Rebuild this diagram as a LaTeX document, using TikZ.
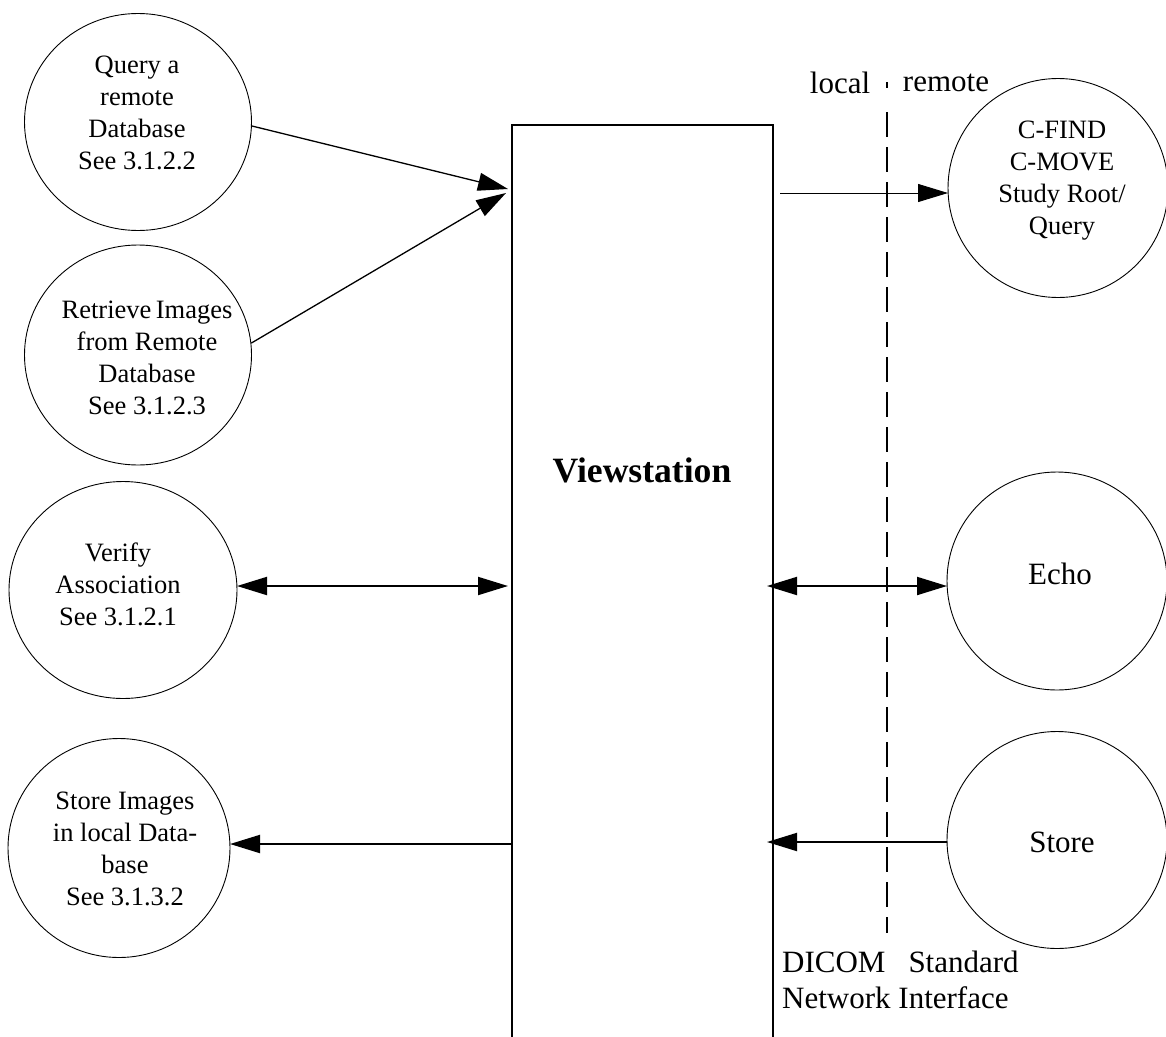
\documentclass[tikz,border=0pt]{standalone}
\usepackage{fontspec}
\setmainfont{Liberation Serif}
\usetikzlibrary{arrows.meta,shapes.geometric}
\begin{document}
\begin{tikzpicture}[x=1pt,y=-1pt,
  circ/.style n args={2}{draw,ellipse,line width=0.9pt,minimum width=#1,minimum height=#2,inner sep=0pt},
  ctext/.style={align=center,inner sep=0pt,font=\fontsize{26.5}{32}\selectfont},
  btext/.style={align=center,inner sep=0pt,font=\fontsize{31}{36}\selectfont},
  tip/.style={-{Triangle[length=30pt,width=18pt]}},
  tips/.style={{Triangle[length=30pt,width=18pt]}-{Triangle[length=30pt,width=18pt]}},
  thick arrow/.style={line width=2pt},
]
\useasboundingbox (0,0) rectangle (1166,1036);

% Viewstation box
\node[draw,line width=2pt,minimum width=261pt,minimum height=940pt,inner sep=0pt] (vs) at (642.5,595) {};
\node[inner sep=0pt,font=\fontsize{35.6}{40}\selectfont\bfseries] (vst) at (642,470) {Viewstation};

% left circles
\node[circ={227pt}{217pt}] (q) at (138,122) {};
\node[ctext] (qt) at (137,113) {Query a\\remote\\Database\\See 3.1.2.2};
\node[circ={227pt}{220pt}] (r) at (138,355) {};
\node[ctext] (rt) at (147,358) {Retrieve\,Images\\from Remote\\Database\\See 3.1.2.3};
\node[circ={228pt}{217pt}] (v) at (123,590) {};
\node[ctext] (vt) at (118,584) {Verify\\Association\\See 3.1.2.1};
\node[circ={222pt}{219pt}] (si) at (119,848) {};
\node[ctext] (sit) at (125,849) {Store Images\\in local Data-\\base\\See 3.1.3.2};

% right circles
\node[circ={220pt}{219pt}] (cf) at (1058,188) {};
\node[ctext] (cft) at (1062,181) {C-FIND\\C-MOVE\\Study Root/\\Query};
\node[circ={220pt}{218pt}] (e) at (1057,581) {};
\node[btext] (et) at (1060,574) {Echo};
\node[circ={220pt}{217pt}] (st) at (1057,840) {};
\node[btext] (stt) at (1062,842) {Store};

% local / remote divider
\node[btext] (loc) at (840,83) {local};
\node[btext] (rem) at (946,83) {remote};
\coordinate (d0) at (887,82);
\coordinate (d1) at (887,88);
\coordinate (d2) at (887,112);
\coordinate (d3) at (887,933);
\draw[line width=2pt] (d0) -- (d1);
\draw[line width=2pt,dash pattern=on 25pt off 10pt] (d2) -- (d3);
\node[btext,align=left,anchor=west] (dicom) at (782,980) {DICOM\hspace{23pt}Standard\\Network Interface};

% connector end points on the box
\coordinate (tq) at (508,189);
\coordinate (tr) at (506,193);
\coordinate (cfs) at (780,193);
\coordinate (cfe) at (948,193);
\coordinate (va) at (237,586);
\coordinate (vb) at (508,586);
\coordinate (ea) at (767,586);
\coordinate (eb) at (947,586);
\coordinate (sa) at (947,842);
\coordinate (sb) at (767,842);
\coordinate (sia) at (512,844);
\coordinate (sib) at (230,844);

% connectors
\draw[tip,line width=1.3pt] (q.-2) -- (tq);
\draw[tip,line width=1.3pt] (r.6) -- (tr);
\draw[tip,line width=1pt] (cfs) -- (cfe);
\draw[tips,thick arrow] (va) -- (vb);
\draw[tips,thick arrow] (ea) -- (eb);
\draw[tip,thick arrow] (sa) -- (sb);
\draw[tip,thick arrow] (sia) -- (sib);
\end{tikzpicture}
\end{document}
